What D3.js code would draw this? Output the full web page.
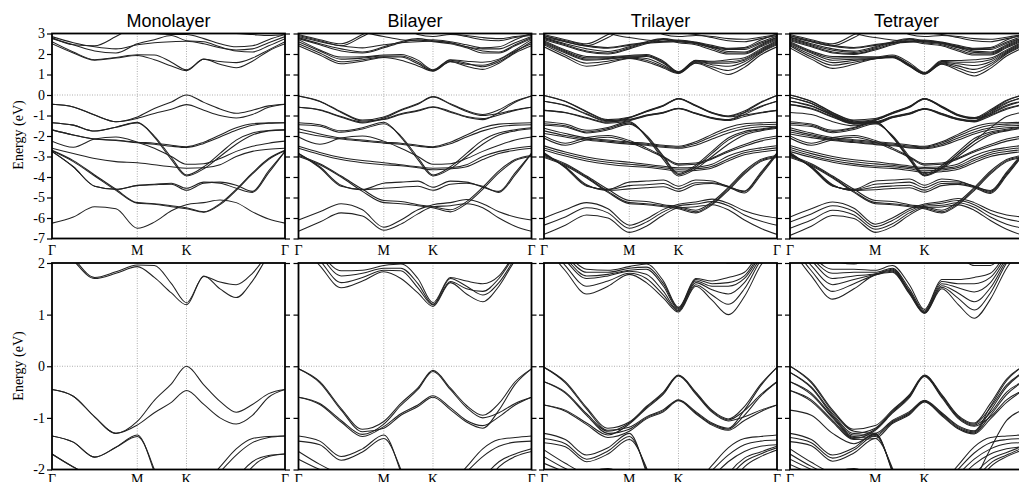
<!DOCTYPE html>
<html>
<head>
<meta charset="utf-8">
<script src="https://cdn.jsdelivr.net/npm/d3@7"></script>
<style>
  body { margin: 0; background: #fff; }
  svg { display: block; }
</style>
</head>
<body>
<script>
  // k-path sample points (units of |ΓM|): Γ - M - K - Γ
  const kPath = [0, 0.25, 0.5, 0.75, 1, 1.2, 1.4, 1.577, 1.78, 1.97, 2.16, 2.35, 2.54, 2.732];
  const kLabelPos = [0, 1, 1.577, 2.732];
  const kLabels = ['Γ', 'M', 'K', 'Γ'];
  const layerNames = ['Monolayer', 'Bilayer', 'Trilayer', 'Tetrayer'];
  const topTicks = [-7, -6, -5, -4, -3, -2, -1, 0, 1, 2, 3];
  const bottomTicks = [-2, -1, 0, 1, 2];

  // band energies (eV), one row per band
  const monoBands = [
    [2.5, 2.05, 1.7, 1.8, 1.93, 1.72, 1.42, 1.19, 1.75, 1.5, 1.33, 1.65, 2.15, 2.5],
    [2.6, 2.1, 1.72, 1.83, 1.96, 1.95, 1.6, 1.23, 1.74, 1.63, 1.58, 1.8, 2.2, 2.6],
    [2.75, 2.45, 2.15, 2.05, 2.5, 2.7, 2.9, 2.65, 2.6, 2.35, 2.15, 2.1, 2.4, 2.75],
    [2.85, 2.55, 2.35, 2.25, 2.45, 2.55, 2.6, 2.62, 2.5, 2.3, 2.2, 2.25, 2.55, 2.85],
    [2.8, 2.45, 2.4, 2.85, 3.4, 3.5, 3.4, 3.3, 3.2, 3.1, 3.0, 2.95, 2.9, 2.95],
    [3.4, 3.4, 3.35, 3.2, 3.1, 3.0, 2.95, 2.95, 2.75, 2.5, 2.35, 2.4, 2.7, 2.95],
    [-0.45, -0.58, -0.98, -1.3, -1.07, -0.66, -0.34, 0, -0.36, -0.68, -0.89, -0.74, -0.53, -0.45],
    [-0.45, -0.58, -0.98, -1.3, -1.14, -0.9, -0.7, -0.47, -0.74, -1.0, -1.12, -0.95, -0.6, -0.45],
    [-1.35, -1.47, -1.76, -1.57, -1.33, -2.05, -3.15, -3.95, -3.6, -3.0, -2.4, -1.95, -1.75, -1.7],
    [-1.35, -1.47, -1.76, -1.57, -1.36, -2.0, -3.05, -3.9, -3.5, -2.85, -2.2, -1.85, -1.73, -1.7],
    [-1.7, -1.95, -2.15, -2.2, -2.3, -2.35, -2.45, -2.52, -2.3, -1.95, -1.6, -1.4, -1.36, -1.35],
    [-1.7, -1.95, -2.15, -2.22, -2.33, -2.4, -2.5, -2.56, -2.36, -2.05, -1.72, -1.48, -1.38, -1.35],
    [-2.25, -2.55, -2.15, -2.05, -2.3, -2.6, -3.0, -3.38, -3.35, -3.1, -2.75, -2.5, -2.35, -2.25],
    [-2.6, -2.85, -3.1, -3.25, -3.3, -3.4, -3.5, -3.57, -3.55, -3.4, -3.0, -2.75, -2.65, -2.6],
    [-2.75, -3.5, -4.45, -4.6, -4.4, -4.35, -4.3, -4.55, -4.25, -4.3, -4.55, -4.75, -3.8, -2.75],
    [-2.75, -3.5, -4.45, -4.6, -4.42, -4.38, -4.35, -4.65, -4.3, -4.25, -4.4, -4.7, -3.7, -2.75],
    [-2.7, -3.2, -3.9, -4.6, -5.25, -5.3, -5.4, -5.5, -5.7, -5.3, -4.6, -3.8, -3.1, -2.7],
    [-2.72, -3.25, -3.95, -4.65, -5.28, -5.33, -5.45, -5.55, -5.72, -5.35, -4.65, -3.85, -3.15, -2.72],
    [-6.25, -5.95, -5.45, -5.55, -6.5, -6.2, -5.65, -5.35, -5.25, -5.12, -5.25, -5.7, -6.05, -6.25]
  ];

  const biBands = [
    [2.4, 1.95, 1.52, 1.65, 1.83, 1.7, 1.42, 1.16, 1.62, 1.4, 1.25, 1.55, 2.05, 2.4],
    [2.5, 2.05, 1.62, 1.72, 1.86, 1.85, 1.52, 1.19, 1.64, 1.5, 1.45, 1.7, 2.15, 2.5],
    [2.6, 2.15, 1.75, 1.8, 1.9, 1.9, 1.6, 1.2, 1.7, 1.55, 1.38, 1.62, 2.1, 2.6],
    [2.7, 2.2, 1.85, 1.86, 1.95, 1.98, 1.7, 1.23, 1.72, 1.65, 1.6, 1.75, 2.2, 2.7],
    [2.75, 2.45, 2.15, 2.05, 2.3, 2.55, 2.7, 2.6, 2.5, 2.3, 2.05, 2.05, 2.4, 2.75],
    [2.8, 2.5, 2.25, 2.1, 2.35, 2.6, 2.75, 2.65, 2.55, 2.35, 2.15, 2.1, 2.45, 2.8],
    [2.85, 2.6, 2.4, 2.3, 2.45, 2.55, 2.6, 2.62, 2.55, 2.35, 2.25, 2.25, 2.55, 2.85],
    [2.9, 2.65, 2.4, 2.85, 3.3, 3.3, 3.2, 3.1, 3.0, 2.85, 2.7, 2.65, 2.8, 2.9],
    [2.95, 2.7, 2.5, 2.95, 3.4, 3.4, 2.95, 2.85, 2.95, 2.9, 2.8, 2.75, 2.85, 2.95],
    [3.3, 3.3, 3.2, 3.05, 2.85, 2.7, 2.65, 2.7, 2.6, 2.45, 2.3, 2.35, 2.7, 3.0],
    [-0.05, -0.3, -0.82, -1.22, -1.07, -0.72, -0.42, -0.08, -0.42, -0.76, -0.95, -0.72, -0.3, -0.05],
    [-0.6, -0.72, -1.05, -1.32, -1.12, -0.76, -0.45, -0.1, -0.45, -0.8, -1.0, -0.9, -0.72, -0.6],
    [-0.6, -0.74, -1.08, -1.36, -1.17, -0.92, -0.75, -0.57, -0.8, -1.05, -1.15, -0.98, -0.75, -0.6],
    [-0.05, -0.32, -0.85, -1.27, -1.2, -0.95, -0.78, -0.6, -0.84, -1.08, -1.2, -0.85, -0.35, -0.05],
    [-1.35, -1.45, -1.75, -1.6, -1.33, -2.05, -3.15, -3.95, -3.6, -3.0, -2.4, -1.95, -1.75, -1.65],
    [-1.45, -1.52, -1.82, -1.66, -1.4, -2.0, -3.05, -3.9, -3.5, -2.85, -2.2, -1.85, -1.7, -1.6],
    [-1.65, -1.9, -2.1, -2.2, -2.3, -2.35, -2.45, -2.52, -2.3, -1.95, -1.6, -1.42, -1.38, -1.35],
    [-1.8, -2.0, -2.15, -2.25, -2.35, -2.4, -2.5, -2.56, -2.38, -2.05, -1.75, -1.55, -1.47, -1.45],
    [-2.05, -2.4, -2.1, -2.0, -2.25, -2.6, -3.0, -3.38, -3.35, -3.1, -2.75, -2.45, -2.2, -2.05],
    [-2.5, -2.8, -3.05, -3.2, -3.3, -3.4, -3.5, -3.57, -3.55, -3.4, -3.0, -2.75, -2.6, -2.5],
    [-2.6, -2.9, -3.15, -3.3, -3.4, -3.45, -3.55, -3.65, -3.6, -3.5, -3.15, -2.85, -2.7, -2.6],
    [-2.85, -3.55, -4.45, -4.6, -4.3, -4.25, -4.2, -4.5, -4.2, -4.25, -4.5, -4.7, -3.8, -2.85],
    [-2.85, -3.5, -4.4, -4.62, -4.55, -4.5, -4.45, -4.65, -4.35, -4.3, -4.45, -4.75, -3.9, -2.85],
    [-3.0, -3.4, -4.0, -4.7, -5.25, -5.3, -5.4, -5.5, -5.7, -5.3, -4.6, -3.8, -3.2, -3.0],
    [-2.95, -3.35, -3.95, -4.6, -5.15, -5.2, -5.35, -5.45, -5.6, -5.2, -4.5, -3.7, -3.15, -2.95],
    [-6.1, -5.7, -5.3, -5.6, -6.45, -6.1, -5.6, -5.35, -5.25, -5.1, -5.3, -5.7, -5.95, -6.1],
    [-6.65, -6.2, -5.75, -5.9, -6.6, -6.3, -5.8, -5.45, -5.4, -5.3, -5.5, -6.0, -6.4, -6.65]
  ];

  const triBands = [
    [2.35, 1.85, 1.4, 1.55, 1.78, 1.62, 1.32, 1.05, 1.55, 1.28, 1.0, 1.35, 1.95, 2.35],
    [2.45, 1.95, 1.55, 1.65, 1.8, 1.7, 1.38, 1.07, 1.58, 1.38, 1.2, 1.5, 2.05, 2.45],
    [2.5, 2.05, 1.7, 1.75, 1.84, 1.78, 1.45, 1.08, 1.62, 1.48, 1.4, 1.62, 2.1, 2.5],
    [2.55, 2.1, 1.75, 1.78, 1.86, 1.88, 1.55, 1.1, 1.65, 1.55, 1.55, 1.7, 2.15, 2.55],
    [2.6, 2.15, 1.82, 1.82, 1.9, 1.92, 1.6, 1.12, 1.68, 1.6, 1.62, 1.75, 2.2, 2.6],
    [2.65, 2.2, 1.88, 1.86, 1.93, 1.98, 1.65, 1.14, 1.7, 1.65, 1.72, 1.82, 2.25, 2.65],
    [2.7, 2.4, 2.1, 2.0, 2.25, 2.5, 2.7, 2.55, 2.45, 2.2, 2.0, 2.0, 2.35, 2.7],
    [2.75, 2.45, 2.15, 2.05, 2.3, 2.55, 2.72, 2.6, 2.5, 2.28, 2.05, 2.05, 2.4, 2.75],
    [2.8, 2.5, 2.25, 2.12, 2.35, 2.6, 2.75, 2.65, 2.55, 2.35, 2.12, 2.1, 2.45, 2.8],
    [2.82, 2.6, 2.38, 2.28, 2.42, 2.52, 2.58, 2.6, 2.52, 2.32, 2.22, 2.22, 2.52, 2.82],
    [2.88, 2.65, 2.42, 2.32, 2.46, 2.56, 2.62, 2.64, 2.56, 2.36, 2.26, 2.28, 2.58, 2.88],
    [2.9, 2.6, 2.4, 2.8, 3.3, 3.3, 3.15, 3.05, 2.95, 2.8, 2.65, 2.6, 2.75, 2.9],
    [2.95, 2.7, 2.5, 2.95, 3.4, 3.35, 2.95, 2.85, 2.9, 2.85, 2.75, 2.72, 2.82, 2.95],
    [3.3, 3.3, 3.2, 3.0, 2.8, 2.68, 2.62, 2.68, 2.58, 2.42, 2.28, 2.32, 2.68, 2.98],
    [-0.02, -0.3, -0.8, -1.2, -1.08, -0.78, -0.5, -0.17, -0.5, -0.85, -1.02, -0.78, -0.35, -0.02],
    [-0.3, -0.5, -0.92, -1.26, -1.1, -0.8, -0.52, -0.18, -0.52, -0.87, -1.04, -0.86, -0.55, -0.3],
    [-0.75, -0.85, -1.1, -1.33, -1.12, -0.82, -0.54, -0.19, -0.54, -0.89, -1.06, -0.98, -0.85, -0.75],
    [-0.02, -0.32, -0.83, -1.24, -1.18, -0.98, -0.84, -0.65, -0.88, -1.1, -1.2, -0.85, -0.38, -0.02],
    [-0.3, -0.52, -0.95, -1.3, -1.22, -1.0, -0.86, -0.66, -0.9, -1.12, -1.22, -0.95, -0.58, -0.3],
    [-0.75, -0.87, -1.13, -1.38, -1.26, -1.02, -0.88, -0.67, -0.92, -1.14, -1.24, -1.05, -0.88, -0.75],
    [-1.3, -1.42, -1.72, -1.58, -1.3, -2.05, -3.15, -3.95, -3.6, -3.0, -2.4, -1.95, -1.75, -1.62],
    [-1.4, -1.5, -1.8, -1.64, -1.36, -2.0, -3.05, -3.88, -3.5, -2.85, -2.2, -1.85, -1.7, -1.58],
    [-1.48, -1.56, -1.85, -1.7, -1.42, -1.96, -2.98, -3.82, -3.42, -2.75, -2.1, -1.78, -1.66, -1.55],
    [-1.62, -1.88, -2.1, -2.2, -2.3, -2.35, -2.45, -2.5, -2.28, -1.92, -1.58, -1.4, -1.36, -1.33],
    [-1.75, -1.98, -2.15, -2.25, -2.35, -2.4, -2.5, -2.55, -2.36, -2.02, -1.72, -1.52, -1.45, -1.43],
    [-1.88, -2.05, -2.2, -2.3, -2.4, -2.45, -2.55, -2.6, -2.45, -2.15, -1.85, -1.65, -1.55, -1.52],
    [-2.0, -2.35, -2.08, -1.98, -2.22, -2.58, -3.0, -3.36, -3.32, -3.08, -2.72, -2.42, -2.15, -2.0],
    [-2.1, -2.45, -2.18, -2.06, -2.3, -2.65, -3.05, -3.42, -3.38, -3.12, -2.78, -2.5, -2.25, -2.1],
    [-2.48, -2.78, -3.02, -3.18, -3.28, -3.38, -3.48, -3.55, -3.52, -3.38, -2.98, -2.72, -2.58, -2.48],
    [-2.58, -2.88, -3.12, -3.28, -3.38, -3.45, -3.55, -3.62, -3.6, -3.48, -3.12, -2.82, -2.68, -2.58],
    [-2.68, -2.98, -3.22, -3.38, -3.48, -3.52, -3.62, -3.72, -3.68, -3.56, -3.22, -2.92, -2.78, -2.68],
    [-2.82, -3.55, -4.45, -4.6, -4.25, -4.2, -4.15, -4.45, -4.15, -4.2, -4.48, -4.68, -3.78, -2.82],
    [-2.86, -3.52, -4.42, -4.62, -4.42, -4.38, -4.32, -4.58, -4.28, -4.28, -4.45, -4.72, -3.85, -2.86],
    [-2.9, -3.5, -4.38, -4.65, -4.58, -4.52, -4.48, -4.7, -4.38, -4.32, -4.5, -4.78, -3.92, -2.9],
    [-3.0, -3.4, -4.0, -4.7, -5.25, -5.3, -5.4, -5.5, -5.7, -5.3, -4.6, -3.8, -3.2, -3.0],
    [-2.95, -3.35, -3.95, -4.6, -5.15, -5.2, -5.35, -5.45, -5.62, -5.22, -4.52, -3.72, -3.15, -2.95],
    [-3.05, -3.45, -4.05, -4.75, -5.3, -5.35, -5.45, -5.55, -5.75, -5.36, -4.66, -3.86, -3.25, -3.05],
    [-6.0, -5.6, -5.25, -5.55, -6.35, -6.05, -5.58, -5.33, -5.22, -5.08, -5.28, -5.65, -5.88, -6.0],
    [-6.35, -5.95, -5.5, -5.75, -6.5, -6.2, -5.7, -5.4, -5.32, -5.2, -5.4, -5.85, -6.15, -6.35],
    [-6.8, -6.35, -5.85, -6.0, -6.7, -6.4, -5.85, -5.5, -5.45, -5.35, -5.6, -6.1, -6.5, -6.8]
  ];

  const tetraBands = [
    [2.3, 1.75, 1.3, 1.5, 1.77, 1.82, 1.4, 1.02, 1.5, 1.2, 0.93, 1.3, 1.9, 2.3],
    [2.4, 1.85, 1.45, 1.6, 1.77, 1.84, 1.42, 1.03, 1.53, 1.32, 1.09, 1.42, 2.0, 2.4],
    [2.45, 1.95, 1.58, 1.68, 1.78, 1.86, 1.44, 1.04, 1.56, 1.42, 1.25, 1.52, 2.05, 2.45],
    [2.5, 2.05, 1.7, 1.75, 1.79, 1.88, 1.46, 1.05, 1.6, 1.52, 1.44, 1.62, 2.1, 2.5],
    [2.55, 2.1, 1.8, 1.82, 1.82, 1.9, 1.5, 1.07, 1.64, 1.6, 1.6, 1.72, 2.15, 2.55],
    [2.6, 2.15, 1.88, 1.88, 1.86, 1.95, 1.58, 1.1, 1.68, 1.68, 1.72, 1.8, 2.2, 2.6],
    [2.65, 2.35, 2.05, 1.98, 2.2, 2.45, 2.62, 2.5, 2.4, 2.15, 1.95, 1.95, 2.3, 2.65],
    [2.7, 2.4, 2.1, 2.02, 2.25, 2.5, 2.68, 2.55, 2.45, 2.22, 2.0, 2.0, 2.35, 2.7],
    [2.75, 2.45, 2.18, 2.08, 2.3, 2.55, 2.72, 2.6, 2.5, 2.3, 2.08, 2.05, 2.4, 2.75],
    [2.8, 2.5, 2.25, 2.14, 2.35, 2.6, 2.76, 2.65, 2.55, 2.36, 2.14, 2.1, 2.45, 2.8],
    [2.82, 2.6, 2.38, 2.28, 2.42, 2.52, 2.58, 2.6, 2.52, 2.32, 2.22, 2.22, 2.52, 2.82],
    [2.88, 2.65, 2.42, 2.32, 2.46, 2.56, 2.62, 2.64, 2.56, 2.36, 2.26, 2.28, 2.58, 2.88],
    [2.9, 2.6, 2.4, 2.8, 3.3, 3.3, 3.15, 3.05, 2.95, 2.8, 2.65, 2.6, 2.75, 2.9],
    [2.95, 2.7, 2.5, 2.95, 3.4, 3.35, 2.95, 2.85, 2.9, 2.85, 2.75, 2.72, 2.82, 2.95],
    [3.3, 3.3, 3.2, 3.0, 2.8, 2.68, 2.62, 2.68, 2.58, 2.42, 2.28, 2.32, 2.68, 2.98],
    [0.0, -0.3, -0.85, -1.22, -1.15, -0.85, -0.55, -0.17, -0.55, -0.95, -1.1, -0.72, -0.25, 0.0],
    [-0.12, -0.4, -0.92, -1.3, -1.2, -0.87, -0.57, -0.18, -0.57, -0.97, -1.12, -0.8, -0.36, -0.12],
    [-0.3, -0.52, -0.98, -1.36, -1.22, -0.89, -0.59, -0.19, -0.59, -0.99, -1.14, -0.9, -0.5, -0.3],
    [-0.47, -0.65, -1.05, -1.4, -1.24, -0.91, -0.61, -0.2, -0.61, -1.01, -1.16, -0.98, -0.65, -0.47],
    [0.0, -0.32, -0.88, -1.26, -1.3, -1.05, -0.88, -0.66, -0.9, -1.15, -1.25, -0.78, -0.28, 0.0],
    [-0.12, -0.42, -0.95, -1.33, -1.33, -1.07, -0.9, -0.67, -0.92, -1.17, -1.27, -0.86, -0.4, -0.12],
    [-0.3, -0.55, -1.0, -1.38, -1.36, -1.09, -0.92, -0.68, -0.94, -1.19, -1.29, -0.95, -0.55, -0.3],
    [-0.47, -0.68, -1.08, -1.42, -1.4, -1.11, -0.94, -0.69, -0.96, -1.21, -1.31, -1.02, -0.7, -0.47],
    [-0.85, -0.95, -1.3, -1.5, -1.32, -2.02, -3.1, -3.92, -3.55, -2.9, -2.25, -1.6, -1.05, -0.85],
    [-1.3, -1.42, -1.72, -1.58, -1.3, -2.05, -3.15, -3.95, -3.6, -3.0, -2.4, -1.95, -1.75, -1.62],
    [-1.38, -1.48, -1.78, -1.62, -1.34, -2.02, -3.08, -3.9, -3.52, -2.88, -2.25, -1.88, -1.72, -1.58],
    [-1.46, -1.54, -1.84, -1.68, -1.4, -1.97, -3.0, -3.84, -3.44, -2.78, -2.12, -1.8, -1.67, -1.55],
    [-1.6, -1.86, -2.08, -2.18, -2.28, -2.34, -2.44, -2.5, -2.28, -1.92, -1.56, -1.38, -1.35, -1.33],
    [-1.7, -1.94, -2.13, -2.23, -2.33, -2.39, -2.49, -2.54, -2.34, -2.0, -1.68, -1.48, -1.42, -1.4],
    [-1.8, -2.0, -2.18, -2.28, -2.38, -2.44, -2.54, -2.58, -2.42, -2.1, -1.8, -1.6, -1.5, -1.48],
    [-1.9, -2.08, -2.22, -2.32, -2.42, -2.48, -2.58, -2.62, -2.48, -2.2, -1.9, -1.7, -1.6, -1.56],
    [-2.0, -2.35, -2.08, -1.98, -2.22, -2.58, -3.0, -3.36, -3.32, -3.08, -2.72, -2.42, -2.15, -2.0],
    [-2.1, -2.45, -2.18, -2.06, -2.3, -2.65, -3.05, -3.42, -3.38, -3.12, -2.78, -2.5, -2.25, -2.1],
    [-2.46, -2.76, -3.0, -3.16, -3.26, -3.36, -3.46, -3.53, -3.5, -3.36, -2.96, -2.7, -2.56, -2.46],
    [-2.56, -2.86, -3.1, -3.26, -3.36, -3.43, -3.53, -3.6, -3.58, -3.46, -3.1, -2.8, -2.66, -2.56],
    [-2.66, -2.96, -3.2, -3.36, -3.46, -3.5, -3.6, -3.7, -3.66, -3.54, -3.2, -2.9, -2.76, -2.66],
    [-2.76, -3.04, -3.28, -3.44, -3.54, -3.58, -3.68, -3.78, -3.74, -3.62, -3.3, -3.0, -2.86, -2.76],
    [-2.8, -3.55, -4.45, -4.6, -4.2, -4.15, -4.1, -4.4, -4.1, -4.18, -4.46, -4.66, -3.76, -2.8],
    [-2.84, -3.53, -4.43, -4.62, -4.35, -4.3, -4.25, -4.52, -4.22, -4.24, -4.44, -4.7, -3.82, -2.84],
    [-2.88, -3.51, -4.4, -4.64, -4.5, -4.44, -4.4, -4.64, -4.32, -4.3, -4.48, -4.75, -3.88, -2.88],
    [-2.92, -3.49, -4.37, -4.66, -4.62, -4.56, -4.52, -4.74, -4.42, -4.36, -4.52, -4.8, -3.94, -2.92],
    [-3.0, -3.4, -4.0, -4.7, -5.25, -5.3, -5.4, -5.5, -5.7, -5.3, -4.6, -3.8, -3.2, -3.0],
    [-2.95, -3.35, -3.95, -4.6, -5.15, -5.2, -5.35, -5.45, -5.62, -5.22, -4.52, -3.72, -3.15, -2.95],
    [-3.05, -3.45, -4.05, -4.75, -5.3, -5.35, -5.45, -5.55, -5.75, -5.36, -4.66, -3.86, -3.25, -3.05],
    [-5.95, -5.55, -5.22, -5.52, -6.3, -6.0, -5.55, -5.32, -5.2, -5.05, -5.25, -5.62, -5.85, -5.95],
    [-6.2, -5.8, -5.4, -5.68, -6.42, -6.12, -5.64, -5.38, -5.28, -5.15, -5.35, -5.78, -6.05, -6.2],
    [-6.5, -6.1, -5.62, -5.85, -6.55, -6.28, -5.75, -5.44, -5.38, -5.26, -5.48, -5.95, -6.3, -6.5],
    [-6.85, -6.4, -5.88, -6.02, -6.7, -6.42, -5.86, -5.5, -5.46, -5.36, -5.62, -6.12, -6.55, -6.85]
  ];

  const allBands = [monoBands, biBands, triBands, tetraBands];

  const width = 1019;
  const height = 482;
  const panelLeft = [52, 298.5, 544, 790];
  const panelW = 233;
  const rows = [
    { top: 33.5, bottom: 238.5, domain: [-7, 3], ticks: topTicks, labelY: 135, kOffset: 16.5 },
    { top: 263, bottom: 469.5, domain: [-2, 2], ticks: bottomTicks, labelY: 366, kOffset: 14 }
  ];

  const svg = d3.select('body')
    .append('svg')
    .attr('width', width)
    .attr('height', height);

  const serif = "'Liberation Serif', 'Times New Roman', serif";

  // titles
  layerNames.forEach((name, i) => {
    svg.append('text')
      .attr('x', panelLeft[i] + panelW / 2)
      .attr('y', 27)
      .attr('text-anchor', 'middle')
      .style('font-family', "'Liberation Sans', Arial, sans-serif")
      .style('font-size', '18px')
      .text(name);
  });

  rows.forEach((row, r) => {
    const y = d3.scaleLinear().domain(row.domain).range([row.bottom, row.top]);

    allBands.forEach((bands, c) => {
      const x = d3.scaleLinear()
        .domain([0, kPath[kPath.length - 1]])
        .range([panelLeft[c], panelLeft[c] + panelW]);

      const g = svg.append('g');
      const clipId = `clip-${r}-${c}`;
      g.append('clipPath').attr('id', clipId)
        .append('rect')
        .attr('x', panelLeft[c]).attr('y', row.top)
        .attr('width', panelW).attr('height', row.bottom - row.top);

      const inner = g.append('g').attr('clip-path', `url(#${clipId})`);

      // dotted guides: Fermi level and M, K
      inner.append('line')
        .attr('x1', x.range()[0]).attr('x2', x.range()[1])
        .attr('y1', y(0)).attr('y2', y(0))
        .attr('stroke', '#999').attr('stroke-width', 0.8)
        .attr('stroke-dasharray', '1,1.5');
      inner.selectAll('line.kv')
        .data(kLabelPos.slice(1, 3))
        .join('line')
        .attr('class', 'kv')
        .attr('x1', (d) => x(d)).attr('x2', (d) => x(d))
        .attr('y1', row.top).attr('y2', row.bottom)
        .attr('stroke', '#999').attr('stroke-width', 0.8)
        .attr('stroke-dasharray', '1,1.5');

      const line = d3.line()
        .x((d, i) => x(kPath[i]))
        .y((d) => y(d))
        .curve(d3.curveMonotoneX);

      inner.selectAll('path.band')
        .data(bands)
        .join('path')
        .attr('class', 'band')
        .attr('d', line)
        .attr('fill', 'none')
        .attr('stroke', '#222')
        .attr('stroke-width', 1.05);

      // axes: outward ticks both sides
      const left = g.append('g')
        .attr('transform', `translate(${panelLeft[c]},0)`)
        .call(d3.axisLeft(y).tickValues(row.ticks).tickSize(5).tickPadding(2)
          .tickFormat(c === 0 ? (d) => String(d) : () => ''));
      const right = g.append('g')
        .attr('transform', `translate(${panelLeft[c] + panelW},0)`)
        .call(d3.axisRight(y).tickValues(row.ticks).tickSize(5).tickFormat(() => ''));
      [left, right].forEach((a) => {
        a.select('.domain').remove();
        a.selectAll('line').attr('stroke', '#000').attr('stroke-width', 1.2);
        a.selectAll('text')
          .style('font-family', serif)
          .style('font-size', '14px')
          .attr('fill', '#000');
      });

      // frame
      g.append('rect')
        .attr('x', panelLeft[c]).attr('y', row.top)
        .attr('width', panelW).attr('height', row.bottom - row.top)
        .attr('fill', 'none')
        .attr('stroke', '#000')
        .attr('stroke-width', 1.8);

      // k-point labels
      g.selectAll('text.klab')
        .data(kLabels)
        .join('text')
        .attr('class', 'klab')
        .attr('x', (d, i) => x(kLabelPos[i]))
        .attr('y', row.bottom + row.kOffset)
        .attr('text-anchor', 'middle')
        .style('font-family', serif)
        .style('font-size', '14px')
        .text((d) => d);
    });

    // y axis title
    svg.append('text')
      .attr('transform', `translate(23,${row.labelY}) rotate(-90)`)
      .attr('text-anchor', 'middle')
      .style('font-family', serif)
      .style('font-size', '14px')
      .text('Energy (eV)');
  });
</script>
</body>
</html>
